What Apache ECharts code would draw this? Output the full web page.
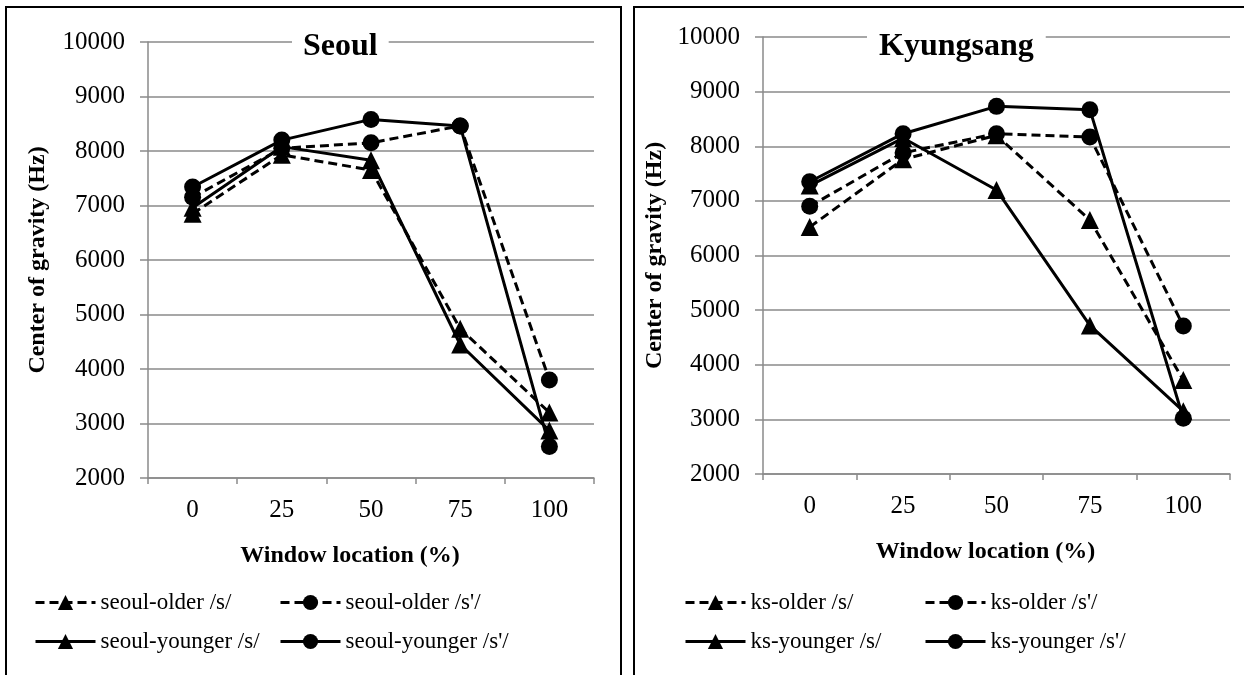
<!DOCTYPE html>
<html>
<head>
<meta charset="utf-8">
<script src="https://cdn.jsdelivr.net/npm/echarts@6/dist/echarts.min.js"></script>
<style>
  html, body { margin: 0; padding: 0; background: #fff; }
  #wrap { position: relative; width: 1244px; height: 675px; overflow: hidden; }
  #chart { position: absolute; left: 0; top: 0; width: 1244px; height: 675px; }
  .frame { position: absolute; box-sizing: border-box; border: 2.5px solid #000; pointer-events: none; }
</style>
</head>
<body>
<div id="wrap">
  <div id="chart"></div>
  <div class="frame" style="left:5px; top:6px; width:617px; height:720px;"></div>
  <div class="frame" style="left:633px; top:6px; width:640px; height:720px;"></div>
</div>
<script>
// ---- data ----
const categories = ['0', '25', '50', '75', '100'];

const seoulOlderS    = [6850, 7930, 7650, 4740, 3200];
const seoulOlderSp   = [7150, 8050, 8150, 8460, 3800];
const seoulYoungerS  = [6960, 8080, 7830, 4450, 2870];
const seoulYoungerSp = [7340, 8200, 8580, 8460, 2580];

const ksOlderS    = [6520, 7760, 8200, 6650, 3720];
const ksOlderSp   = [6900, 7880, 8230, 8170, 4710];
const ksYoungerS  = [7280, 8150, 7200, 4720, 3150];
const ksYoungerSp = [7350, 8230, 8730, 8670, 3020];

const yTicks = { min: 2000, max: 10000, interval: 1000 };

const seoulNames = ['seoul-older /s/', "seoul-older /s'/", 'seoul-younger /s/', "seoul-younger /s'/"];
const ksNames    = ['ks-older /s/', "ks-older /s'/", 'ks-younger /s/', "ks-younger /s'/"];

// ---- styling ----
const FONT = "'Liberation Serif', 'Times New Roman', serif";
const GRAY = '#8a8a8a';

function mkSeries(name, data, idx, dashed, symbol) {
  return {
    name, type: 'line', data,
    xAxisIndex: idx, yAxisIndex: idx,
    symbol, symbolSize: symbol === 'triangle' ? 18 : 17,
    showSymbol: true,
    lineStyle: { color: '#000', width: 3, type: dashed ? [9, 5] : 'solid' },
    itemStyle: { color: '#000' },
    emphasis: { disabled: true },
    animation: false,
    z: dashed ? 3 : 4
  };
}

function xAxisFor(idx, nameShift) {
  return {
    type: 'category', gridIndex: idx, data: categories,
    boundaryGap: true,
    axisLine: { lineStyle: { color: GRAY, width: 1.5 } },
    axisTick: { show: true, length: 6, lineStyle: { color: GRAY, width: 1.5 } },
    axisLabel: { color: '#000', fontFamily: FONT, fontSize: 25, margin: 20 },
    name: 'Window location (%)', nameLocation: 'middle', nameGap: 66,
    nameTextStyle: { color: '#000', fontFamily: FONT, fontSize: 24, fontWeight: 'bold',
                     padding: [0, nameShift, 0, 0] }
  };
}
function yAxisFor(idx, gap) {
  return {
    type: 'value', gridIndex: idx, min: yTicks.min, max: yTicks.max, interval: yTicks.interval,
    axisLine: { show: true, lineStyle: { color: GRAY, width: 1.5 } },
    axisTick: { show: true, length: 8, lineStyle: { color: GRAY, width: 1.5 } },
    splitLine: { show: true, lineStyle: { color: GRAY, width: 1.5 } },
    axisLabel: { color: '#000', fontFamily: FONT, fontSize: 25, margin: 23,
                 formatter: v => String(v) },
    name: 'Center of gravity (Hz)', nameLocation: 'middle', nameGap: gap,
    nameTextStyle: { color: '#000', fontFamily: FONT, fontSize: 24, fontWeight: 'bold' }
  };
}

function legendItem(name, left, top) {
  return {
    data: [name], left, top, orient: 'horizontal', padding: 0,
    itemWidth: 60, itemHeight: 19, itemGap: 0,
    selectedMode: false,
    lineStyle: { width: 3 },
    textStyle: { color: '#000', fontFamily: FONT, fontSize: 23 }
  };
}

const option = {
  animation: false,
  backgroundColor: '#fff',
  title: [
    { text: 'Seoul', left: 292, top: 29, padding: [2, 11],
      backgroundColor: '#fff',
      textStyle: { fontFamily: FONT, fontSize: 32, fontWeight: 'bold', color: '#000' } },
    { text: 'Kyungsang', left: 867, top: 29, padding: [2, 12],
      backgroundColor: '#fff',
      textStyle: { fontFamily: FONT, fontSize: 32, fontWeight: 'bold', color: '#000' } }
  ],
  grid: [
    { left: 148, right: 650, top: 42, bottom: 197, containLabel: false },
    { left: 763, right: 14, top: 37, bottom: 201, containLabel: false }
  ],
  xAxis: [xAxisFor(0, 42), xAxisFor(1, 22)],
  yAxis: [yAxisFor(0, 98), yAxisFor(1, 96)],
  legend: [
    legendItem(seoulNames[0], 34, 591),
    legendItem(seoulNames[1], 279, 591),
    legendItem(seoulNames[2], 34, 630),
    legendItem(seoulNames[3], 279, 630),
    legendItem(ksNames[0], 684, 591),
    legendItem(ksNames[1], 924, 591),
    legendItem(ksNames[2], 684, 630),
    legendItem(ksNames[3], 924, 630)
  ],
  series: [
    mkSeries(seoulNames[0], seoulOlderS, 0, true, 'triangle'),
    mkSeries(seoulNames[1], seoulOlderSp, 0, true, 'circle'),
    mkSeries(seoulNames[2], seoulYoungerS, 0, false, 'triangle'),
    mkSeries(seoulNames[3], seoulYoungerSp, 0, false, 'circle'),
    mkSeries(ksNames[0], ksOlderS, 1, true, 'triangle'),
    mkSeries(ksNames[1], ksOlderSp, 1, true, 'circle'),
    mkSeries(ksNames[2], ksYoungerS, 1, false, 'triangle'),
    mkSeries(ksNames[3], ksYoungerSp, 1, false, 'circle')
  ]
};

const chart = echarts.init(document.getElementById('chart'), null, { renderer: 'canvas' });
chart.setOption(option);
</script>
</body>
</html>
